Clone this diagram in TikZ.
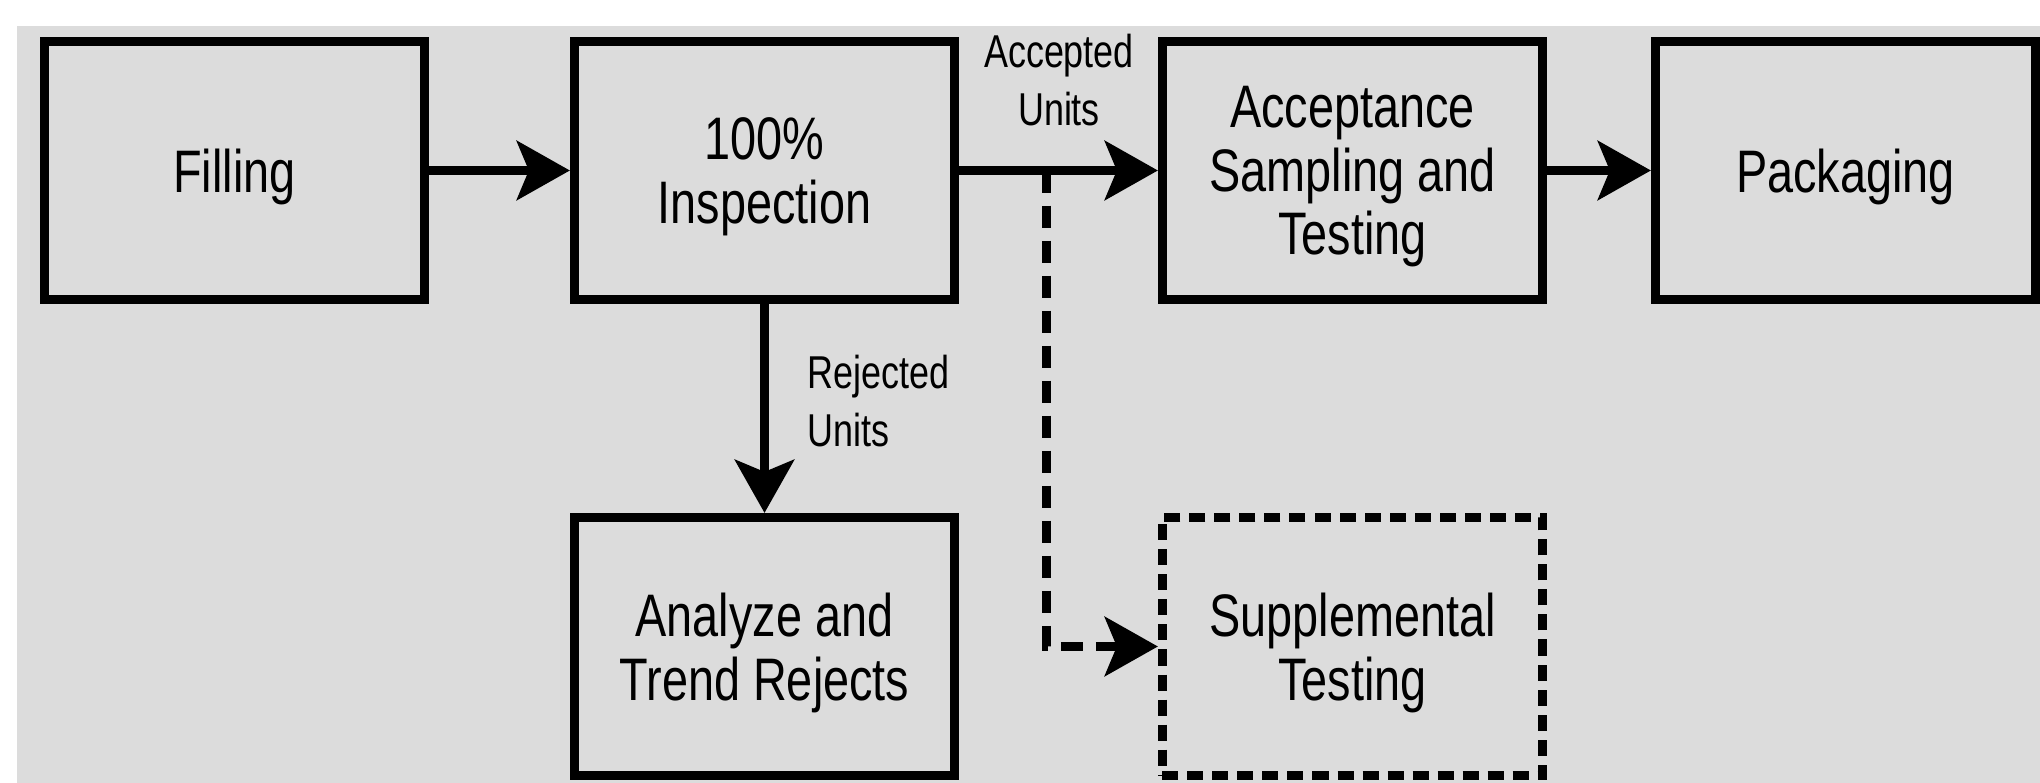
\documentclass[tikz,border=0pt]{standalone}
\usepackage{fontspec}
\setmainfont{Liberation Sans}[FakeStretch=0.78]
\usetikzlibrary{arrows.meta,calc}
\newcommand\bxfont{\fontsize{17.07pt}{18.1pt}\selectfont}
\newcommand\lbfont{\fontsize{13.1pt}{16.3pt}\selectfont}
\definecolor{bggray}{HTML}{DCDCDC}
\begin{document}
\begin{tikzpicture}[x=0.01cm,y=-0.01cm,
  box/.style={draw=black, line width=0.09cm, minimum width=3.8cm, minimum height=2.58cm, inner sep=0pt, align=center, font=\bxfont, text depth=0pt},
  dbox/.style={box, dash pattern=on 0.16cm off 0.09cm},
  flow/.style={line width=0.09cm, -{Stealth[length=0.53cm,width=0.59cm,inset=0.12cm]}},
  dflow/.style={flow, dash pattern=on 0.22cm off 0.13cm},
  lbl/.style={inner sep=0pt, font=\lbfont}]
  \fill[white] (0,0) rectangle (2040,783);
  \fill[bggray] (17,26) rectangle (2040,783);
  \useasboundingbox (0,0) rectangle (2040,783);

  \node[box] (fill) at (234.5,170.5) {Filling};
  \node[box] (insp) at (764.5,170.5) {100\%\\Inspection};
  \node[box] (acc)  at (1352.5,170.5) {Acceptance\\Sampling and\\Testing};
  \node[box] (pack) at (1845.5,170.5) {Packaging};
  \node[box] (anal) at (764.5,646.5) {Analyze and\\Trend Rejects};
  \node[dbox, text depth=-0.08cm] (supp) at (1352.5,646.5) {Supplemental\\Testing};

  \node[lbl, anchor=west, align=left] (rej) at (807,401) {Rejected\\Units};
  \node[lbl, align=center] (accl) at (1059,80) {Accepted\\Units};

  \draw[flow] (fill) -- (insp);
  \draw[flow] (insp) -- (acc);
  \draw[flow] (acc) -- (pack);
  \draw[flow] (insp) -- (anal);
  \coordinate (split) at ($(insp.east)!0.44!(acc.west)$);
  \draw[dflow] (split) |- (supp.west);
\end{tikzpicture}
\end{document}
